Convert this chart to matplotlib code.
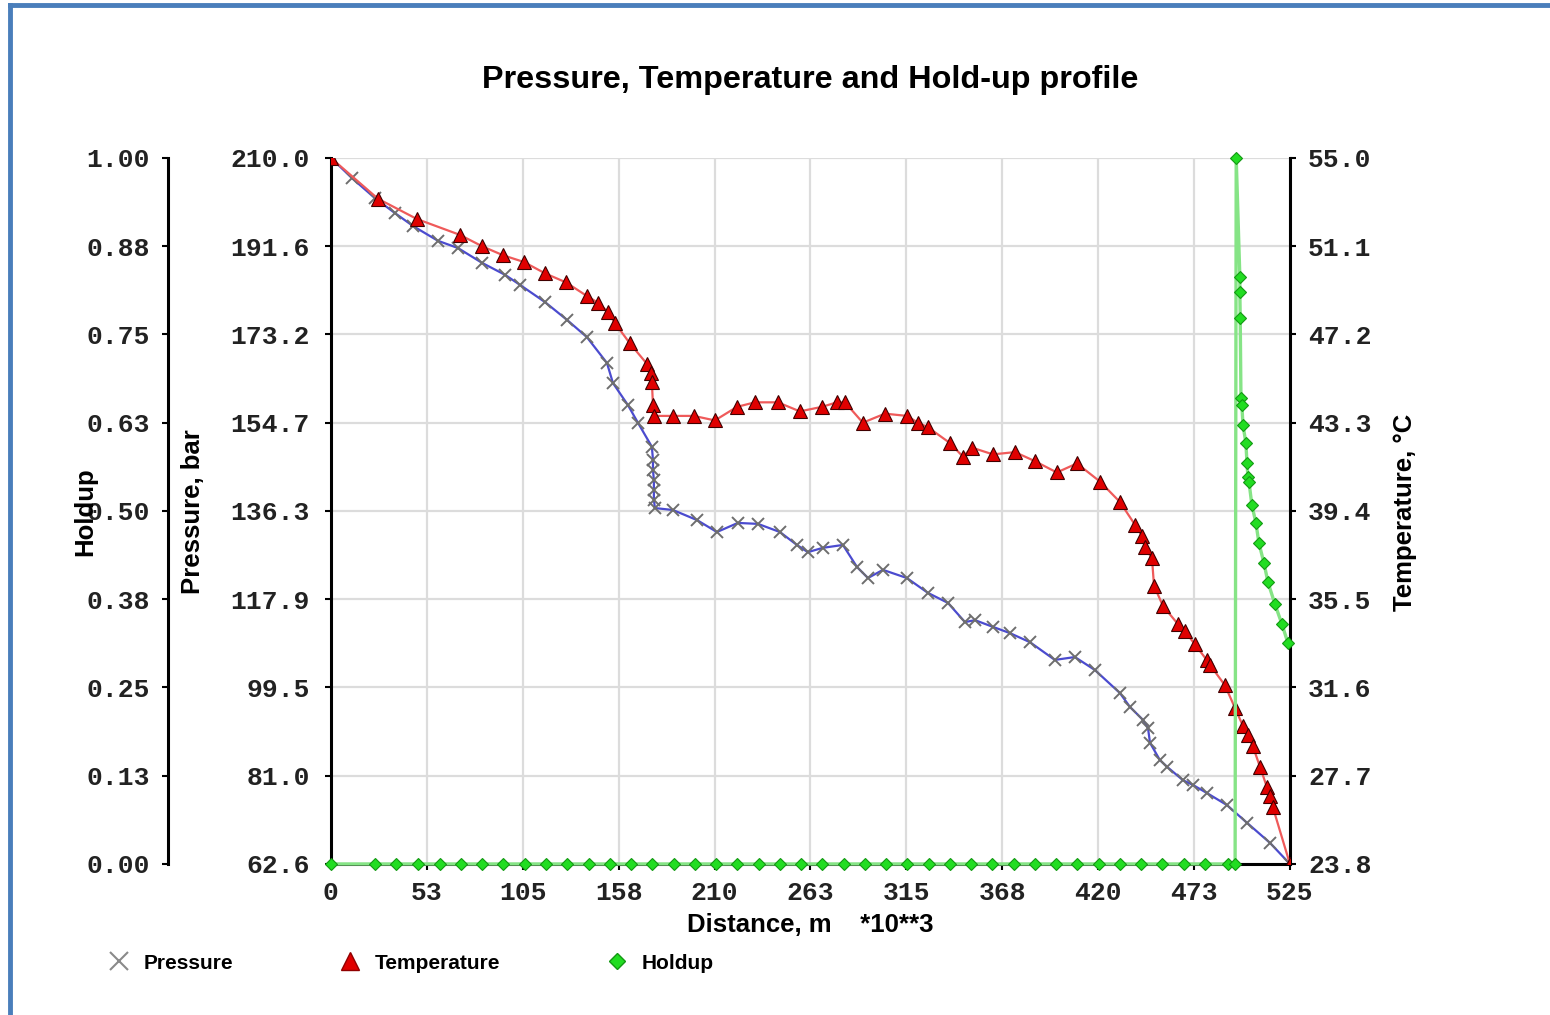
import numpy as np
import matplotlib
matplotlib.use('Agg')
import matplotlib.pyplot as plt
from matplotlib.lines import Line2D

# ---------------- data (distance in km, i.e. m*10**3) ----------------
p_dist = [0.0, 11.5, 24.1, 35.0, 44.9, 58.6, 69.5, 82.7, 95.3, 103.5, 117.2, 129.2,
          140.1, 151.1, 154.4, 162.6, 168.1, 175.7, 176.3, 176.3, 176.8, 176.8, 176.8,
          177.4, 187.2, 200.4, 211.3, 222.8, 233.8, 245.8, 255.1, 261.1, 269.3, 280.3,
          288.0, 294.0, 302.2, 315.3, 326.8, 337.8, 347.1, 352.6, 362.4, 371.7, 382.7,
          396.3, 407.3, 418.2, 431.9, 437.4, 444.5, 447.3, 448.4, 453.8, 457.7, 466.4,
          471.9, 479.6, 490.5, 501.5, 514.1, 525.0]
pressure = [210.0, 205.8, 201.6, 198.5, 195.8, 192.7, 191.2, 188.1, 185.6, 183.5, 179.9, 176.2,
            172.6, 167.2, 163.0, 158.4, 154.7, 149.7, 147.0, 144.9, 142.8, 140.7, 138.6,
            136.9, 136.5, 134.4, 131.9, 133.8, 133.6, 131.9, 129.2, 127.7, 128.6, 129.2,
            124.6, 122.3, 124.0, 122.3, 119.2, 117.1, 113.1, 113.5, 112.1, 110.8, 108.9,
            105.2, 105.8, 103.1, 98.3, 95.4, 92.7, 91.0, 87.9, 84.3, 82.9, 80.1,
            79.1, 77.4, 74.9, 71.2, 67.0, 62.6]

t_dist = [0.0, 25.7, 47.1, 70.6, 82.7, 94.2, 105.7, 117.2, 128.7, 140.1, 146.2, 151.6,
          155.5, 163.7, 173.0, 175.2, 175.7, 176.3, 176.8, 187.2, 198.7, 210.2, 222.3,
          232.1, 244.7, 256.7, 268.8, 277.0, 281.4, 291.2, 303.3, 315.3, 321.4, 326.8,
          338.9, 346.0, 350.9, 362.4, 374.5, 385.4, 397.4, 408.4, 421.0, 431.9, 440.1,
          444.0, 445.6, 449.5, 450.6, 455.5, 463.7, 467.5, 473.0, 479.6, 481.2, 489.4,
          494.9, 499.3, 502.0, 504.7, 508.6, 512.4, 514.1, 515.7, 525.0]
temperature = [55.0, 53.2, 52.3, 51.6, 51.1, 50.7, 50.4, 49.9, 49.5, 48.9, 48.6, 48.2,
               47.7, 46.8, 45.9, 45.5, 45.1, 44.1, 43.6, 43.6, 43.6, 43.4, 44.0,
               44.2, 44.2, 43.8, 44.0, 44.2, 44.2, 43.3, 43.7, 43.6, 43.3, 43.1,
               42.4, 41.8, 42.2, 41.9, 42.0, 41.6, 41.1, 41.5, 40.7, 39.8, 38.8,
               38.3, 37.8, 37.3, 36.1, 35.2, 34.4, 34.1, 33.5, 32.8, 32.6, 31.7,
               30.7, 29.9, 29.5, 29.0, 28.1, 27.2, 26.8, 26.3, 23.8]

h_dist = [0.0, 24.1, 35.6, 47.6, 59.7, 71.2, 82.7, 94.2, 106.2, 117.7, 129.2, 141.2,
          152.7, 164.2, 175.7, 187.8, 199.3, 210.8, 222.3, 234.3, 245.8, 257.3, 268.8,
          280.8, 292.3, 303.8, 315.3, 327.4, 338.9, 350.4, 361.9, 373.9, 385.4, 396.9,
          408.4, 420.4, 431.9, 443.4, 454.9, 467.0, 478.5, 491.1, 495.0, 495.6,
          497.6, 497.6, 497.8, 498.2, 498.7, 499.3, 500.9, 501.5, 502.0, 502.6,
          504.2, 506.4, 508.0, 510.8, 513.0, 516.8, 520.6, 523.9]
holdup = [0.0, 0.0, 0.0, 0.0, 0.0, 0.0, 0.0, 0.0, 0.0, 0.0, 0.0, 0.0,
          0.0, 0.0, 0.0, 0.0, 0.0, 0.0, 0.0, 0.0, 0.0, 0.0, 0.0,
          0.0, 0.0, 0.0, 0.0, 0.0, 0.0, 0.0, 0.0, 0.0, 0.0, 0.0,
          0.0, 0.0, 0.0, 0.0, 0.0, 0.0, 0.0, 0.0, 0.0, 1.0,
          0.831, 0.810, 0.773, 0.660, 0.650, 0.622, 0.596, 0.568, 0.548, 0.541,
          0.508, 0.483, 0.455, 0.426, 0.399, 0.368, 0.340, 0.313]

x_ticklabels = ['0', '53', '105', '158', '210', '263', '315', '368', '420', '473', '525']
p_ticklabels = ['62.6', '81.0', '99.5', '117.9', '136.3', '154.7', '173.2', '191.6', '210.0']
t_ticklabels = ['23.8', '27.7', '31.6', '35.5', '39.4', '43.3', '47.2', '51.1', '55.0']
h_ticklabels = ['0.00', '0.13', '0.25', '0.38', '0.50', '0.63', '0.75', '0.88', '1.00']

# ---------------- styles ----------------
mono = 'Liberation Mono'
sans = 'Liberation Sans'
tick_fs = 19

fig = plt.figure(figsize=(15.5, 10.15), dpi=100)
ax = fig.add_axes([0.2135, 0.1488, 0.6187, 0.6956])
ax_t = ax.twinx()
ax_h = ax.twinx()

ax.set_xlim(0, 525)
ax.set_ylim(62.6, 210.0)
ax_t.set_ylim(23.8, 55.0)
ax_h.set_ylim(0, 1)

ax.set_xticks(np.linspace(0, 525, 11))
ax.set_xticklabels(x_ticklabels)
ax.set_yticks(np.linspace(62.6, 210.0, 9))
ax.set_yticklabels(p_ticklabels)
ax_t.set_yticks(np.linspace(23.8, 55.0, 9))
ax_t.set_yticklabels(t_ticklabels)
ax_h.set_yticks(np.linspace(0, 1, 9))
ax_h.set_yticklabels(h_ticklabels)

ax.grid(True, color='#dcdcdc', linewidth=1.6)
ax.set_axisbelow(True)

# holdup axis on the far left
ax_h.yaxis.set_ticks_position('left')
ax_h.spines['left'].set_position(('axes', -0.170))
ax_h.spines['left'].set_visible(True)
for s in ['right', 'top', 'bottom']:
    ax_h.spines[s].set_visible(False)
for s in ['top', 'left', 'bottom']:
    ax_t.spines[s].set_visible(False)
ax.spines['top'].set_visible(False)
ax.spines['right'].set_visible(False)

for a in (ax, ax_t, ax_h):
    for s in a.spines.values():
        s.set_linewidth(2.2)
        s.set_color('black')
    a.tick_params(axis='both', length=4, width=1.5, labelsize=tick_fs)
    for lab in a.get_xticklabels() + a.get_yticklabels():
        lab.set_fontfamily(mono)
        lab.set_fontweight('bold')
        lab.set_color('#222222')
ax.tick_params(axis='y', pad=11)
ax.tick_params(axis='x', pad=8)
ax_t.tick_params(axis='y', pad=9)
ax_h.tick_params(axis='y', pad=9)

# ---------------- series ----------------
ax.plot(p_dist, pressure, color='#4b4bcf', linewidth=1.6, marker='x',
        markersize=9, markeredgecolor='#6e6e6e', markeredgewidth=1.4, zorder=3)
ax_t.plot(t_dist, temperature, color='#ef5a5a', linewidth=1.6, marker='^',
          markersize=10, markerfacecolor='#e00000', markeredgecolor='#400000',
          markeredgewidth=0.8, zorder=3)
ax_h.plot(h_dist, holdup, color='#86e486', linewidth=2.4, marker='D',
          markersize=6, markerfacecolor='#22dd22', markeredgecolor='#139913',
          markeredgewidth=0.8, clip_on=False, zorder=2)

# ---------------- texts ----------------
fig.text(0.5226, 0.921, 'Pressure, Temperature and Hold-up profile',
         ha='center', va='center', fontsize=23.3, fontweight='bold', family=sans)
ax.set_xlabel('Distance, m    *10**3', fontsize=18.5, fontweight='bold',
              family=sans, labelpad=6)
fig.text(0.1245, 0.4956, 'Pressure, bar', rotation=90, ha='center', va='center',
         fontsize=18.5, fontweight='bold', family=sans)
fig.text(0.0548, 0.4956, 'Holdup', rotation=90, ha='center', va='center',
         fontsize=18.5, fontweight='bold', family=sans)
fig.text(0.9065, 0.4956, 'Temperature, °C', rotation=90, ha='center', va='center',
         fontsize=18.5, fontweight='bold', family=sans)

# ---------------- legend ----------------
handles = [Line2D([], [], linestyle='none', marker='x', markersize=13,
                  markeredgecolor='#8a8a8a', markeredgewidth=1.5),
           Line2D([], [], linestyle='none', marker='^', markersize=13,
                  markerfacecolor='#e00000', markeredgecolor='#900000'),
           Line2D([], [], linestyle='none', marker='D', markersize=8,
                  markerfacecolor='#22dd22', markeredgecolor='#139913')]
leg = fig.legend(handles, ['Pressure', 'Temperature', 'Holdup'], ncol=3,
                 loc='center left', bbox_to_anchor=(0.059, 0.051), frameon=False,
                 handlelength=0.8, handletextpad=0.8, columnspacing=5.2,
                 prop={'family': sans, 'weight': 'bold', 'size': 15})

# ---------------- blue frame ----------------
fig.add_artist(Line2D([0.0065, 1.0], [0.995, 0.995], transform=fig.transFigure,
                      color='#4a7ebb', linewidth=3.5))
fig.add_artist(Line2D([0.0065, 0.0065], [0.0, 0.995], transform=fig.transFigure,
                      color='#4a7ebb', linewidth=3.5))

fig.savefig('out.png', dpi=100, facecolor='white')
